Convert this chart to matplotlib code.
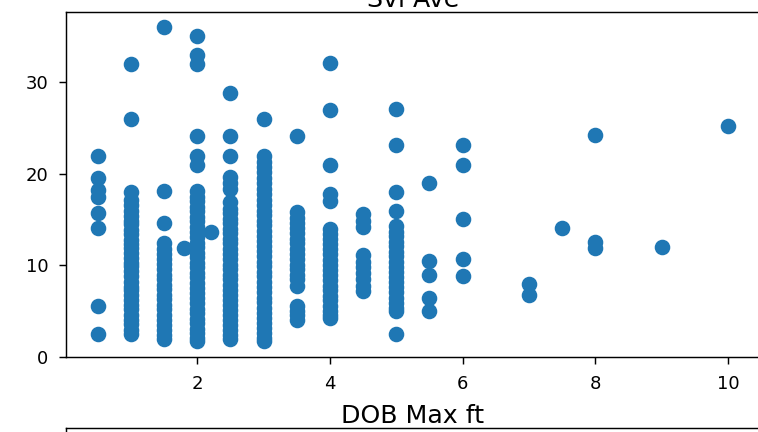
import numpy as np
import matplotlib
matplotlib.use("Agg")
import matplotlib.pyplot as plt

# Svi Ave readings grouped by DOB Max ft depth
depth_levels = [0.5, 1.0, 1.5, 1.8, 2.0, 2.2, 2.5, 3.0, 3.5, 4.0, 4.5,
                5.0, 5.5, 6.0, 7.0, 7.5, 8.0, 9.0, 10.0]

svi_d0_5 = [22.0, 19.6, 18.2, 17.5, 15.7, 14.1, 5.6, 2.5]
svi_d1_0 = [32.0, 26.0, 18.0, 17.1, 16.6, 16.0, 15.4, 14.9, 14.5, 13.9, 13.4,
            12.8, 12.3, 11.9, 11.4, 10.8, 10.3, 9.9, 9.4, 8.8, 8.2, 7.7, 7.3,
            6.8, 6.2, 5.7, 5.2, 4.6, 4.1, 3.6, 3.0, 2.5]
svi_d1_5 = [36.0, 18.1, 14.6, 12.4, 11.8, 11.3, 10.7, 10.2, 9.6, 9.0, 8.5,
            7.9, 7.4, 6.8, 6.3, 5.7, 5.2, 4.6, 4.0, 3.5, 2.9, 2.4, 2.0]
svi_d1_8 = [11.9]
svi_d2_0 = [35.0, 33.0, 32.0, 24.1, 22.0, 21.0, 18.1, 17.5, 17.0, 16.4, 15.9,
            15.3, 14.8, 14.2, 13.6, 13.1, 12.5, 12.0, 11.4, 10.9, 10.3, 9.8,
            9.2, 8.7, 8.1, 7.5, 7.0, 6.4, 5.9, 5.3, 4.8, 4.2, 3.7, 3.1, 2.6,
            2.1, 1.7]
svi_d2_2 = [13.7]
svi_d2_5 = [28.8, 24.1, 22.0, 19.7, 19.0, 18.3, 16.9, 16.2, 15.7, 15.1, 14.6,
            14.0, 13.5, 12.9, 12.4, 11.8, 11.2, 10.7, 10.1, 9.6, 9.0, 8.5,
            7.9, 7.3, 6.8, 6.2, 5.7, 5.1, 4.6, 4.0, 3.5, 2.9, 2.4, 2.0]
svi_d3_0 = [26.0, 22.0, 21.3, 20.8, 20.2, 19.6, 19.0, 18.4, 17.8, 17.2, 16.6,
            16.0, 15.5, 14.9, 14.4, 13.8, 13.2, 12.7, 12.1, 11.6, 11.0, 10.4,
            9.9, 9.3, 8.8, 8.2, 7.6, 7.1, 6.5, 6.0, 5.4, 4.8, 4.3, 3.7, 3.2,
            2.6, 2.1, 1.8]
svi_d3_5 = [24.1, 15.8, 15.2, 14.6, 14.1, 13.5, 12.9, 12.4, 11.8, 11.3, 10.7,
            10.1, 9.6, 9.0, 8.5, 7.8, 5.6, 5.0, 4.6, 4.1]
svi_d4_0 = [32.1, 27.0, 21.0, 17.8, 17.0, 14.0, 13.4, 12.9, 12.3, 11.8, 11.2,
            10.6, 10.1, 9.5, 9.0, 8.4, 7.8, 7.3, 6.7, 6.2, 5.6, 5.0, 4.6, 4.3]
svi_d4_5 = [15.6, 14.9, 14.2, 11.1, 10.4, 9.8, 9.2, 8.5, 7.8, 7.2]
svi_d5_0 = [27.1, 23.1, 18.0, 15.9, 14.3, 13.7, 13.2, 12.6, 12.1, 11.5, 11.0,
            10.4, 9.8, 9.3, 8.7, 8.2, 7.6, 7.1, 6.5, 5.9, 5.4, 5.0, 2.5]
svi_d5_5 = [19.0, 10.5, 9.0, 6.5, 5.0]
svi_d6_0 = [23.1, 21.0, 15.1, 10.7, 8.8]
svi_d7_0 = [8.0, 6.8]
svi_d7_5 = [14.1]
svi_d8_0 = [24.2, 12.6, 11.9]
svi_d9_0 = [12.0]
svi_d10_0 = [25.2]

svi_groups = [svi_d0_5, svi_d1_0, svi_d1_5, svi_d1_8, svi_d2_0, svi_d2_2,
              svi_d2_5, svi_d3_0, svi_d3_5, svi_d4_0, svi_d4_5, svi_d5_0,
              svi_d5_5, svi_d6_0, svi_d7_0, svi_d7_5, svi_d8_0, svi_d9_0,
              svi_d10_0]

x_ticks = [2, 4, 6, 8, 10]
y_ticks = [0, 10, 20, 30]

dob = np.concatenate([[d] * len(g) for d, g in zip(depth_levels, svi_groups)])
svi = np.concatenate(svi_groups)

W, H, DPI = 758, 432, 130
fig = plt.figure(figsize=(W / DPI, H / DPI), dpi=DPI)

left, right = 66.3, 759.5
top, bottom = 11.6, 357.2
ax = fig.add_axes([left / W, (H - bottom) / H, (right - left) / W,
                   (bottom - top) / H])
ax.scatter(dob, svi, s=58, color="#1f77b4")
ax.set_xticks(x_ticks)
ax.set_yticks(y_ticks)
ax.tick_params(length=3.9, pad=6.0, labelsize=10)
ax.set_title("Svi Ave", fontsize=14, pad=1.8)

# next panel in the grid, only its top edge and title fall inside the frame
top2 = 427.7
ax2 = fig.add_axes([left / W, (H - top2) / H - 0.6, (right - left) / W, 0.6])
ax2.set_xticks([])
ax2.set_yticks([])
ax2.set_title("DOB Max ft", fontsize=14, pad=1.8)

fig.savefig("out.png", dpi=DPI)
